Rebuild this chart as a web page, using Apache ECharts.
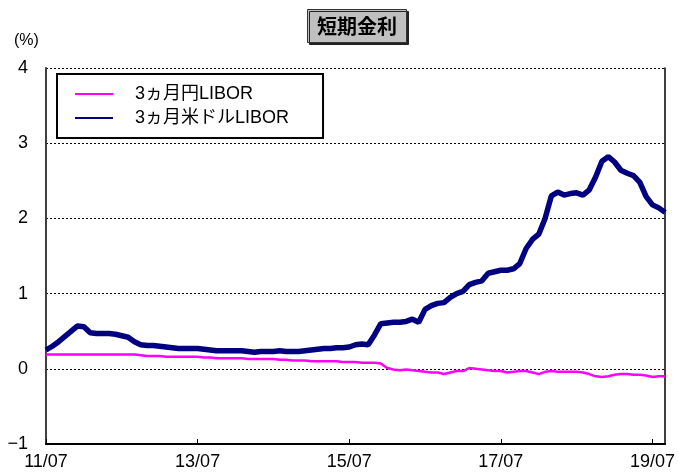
<!DOCTYPE html>
<html>
<head>
<meta charset="utf-8">
<script src="https://cdn.jsdelivr.net/npm/echarts@6/dist/echarts.min.js"></script>
<style>html,body{margin:0;padding:0;background:#fff;}#c{width:678px;height:475px;}</style>
</head>
<body>
<div id="c"></div>
<script>
// Monthly data, index 0 = 2011/07
const startYear = 11;
const seriesNames = ['3ヵ月円LIBOR', '3ヵ月米ドルLIBOR'];
const jpy = [
  0.19,0.19,0.19,0.19,0.19,0.19,0.19,0.19,0.19,0.19,0.19,0.19,
  0.19,0.19,0.19,0.18,0.17,0.17,0.17,0.16,0.16,0.16,0.16,0.16,
  0.16,0.15,0.15,0.14,0.14,0.14,0.14,0.14,0.13,0.13,0.13,0.13,
  0.13,0.12,0.12,0.11,0.11,0.11,0.10,0.10,0.10,0.10,0.10,0.09,
  0.09,0.09,0.08,0.08,0.08,0.07,0.01,-0.01,-0.02,-0.01,-0.02,-0.03,
  -0.04,-0.05,-0.05,-0.07,-0.05,-0.03,-0.03,0.01,0.00,-0.01,-0.02,-0.03,
  -0.03,-0.05,-0.04,-0.03,-0.03,-0.05,-0.07,-0.04,-0.03,-0.04,-0.04,-0.04,
  -0.04,-0.05,-0.07,-0.10,-0.11,-0.10,-0.08,-0.07,-0.07,-0.08,-0.08,-0.09,
  -0.11,-0.10,-0.10
];
const usd = [
  0.25,0.30,0.36,0.43,0.50,0.57,0.56,0.48,0.47,0.47,0.47,0.46,
  0.44,0.42,0.36,0.32,0.31,0.31,0.30,0.29,0.28,0.27,0.27,0.27,
  0.27,0.26,0.25,0.24,0.24,0.24,0.24,0.24,0.23,0.22,0.23,0.23,
  0.23,0.24,0.23,0.23,0.23,0.24,0.25,0.26,0.27,0.27,0.28,0.28,
  0.29,0.32,0.33,0.32,0.45,0.60,0.61,0.62,0.62,0.63,0.66,0.62,
  0.79,0.84,0.87,0.88,0.95,1.00,1.03,1.12,1.15,1.17,1.27,1.29,
  1.31,1.31,1.33,1.40,1.60,1.72,1.79,2.00,2.30,2.35,2.31,2.33,
  2.34,2.31,2.38,2.55,2.76,2.82,2.75,2.64,2.60,2.57,2.48,2.29,
  2.18,2.14,2.08
];
const yTicks = [-1, 0, 1, 2, 3, 4];

const toPairs = arr => arr.map((v, i) => [i, v]);
const font = '"Liberation Sans", "Noto Sans CJK JP", sans-serif';

const chart = echarts.init(document.getElementById('c'), null, {renderer: 'canvas'});
chart.setOption({
  animation: false,
  backgroundColor: '#fff',
  title: {
    text: '短期金利',
    left: 307, top: 9,
    padding: [6, 10, 6, 10],
    backgroundColor: '#c0c0c0',
    borderColor: '#333',
    borderWidth: 1,
    shadowColor: '#222',
    shadowOffsetX: 2,
    shadowOffsetY: 2,
    shadowBlur: 0,
    textStyle: {fontSize: 20, fontWeight: 'bold', color: '#000', fontFamily: '"Noto Sans CJK JP", sans-serif', lineHeight: 22}
  },
  graphic: [{
    type: 'text', left: 14, top: 33,
    style: {text: '(%)', fontSize: 16, fill: '#000', fontFamily: font}
  }],
  legend: {
    orient: 'vertical',
    left: 57, top: 74,
    padding: [11, 34, 11, 18],
    itemGap: 6,
    itemWidth: 38,
    itemHeight: 2,
    backgroundColor: '#fff',
    borderColor: '#000',
    borderWidth: 2,
    data: [
      {name: seriesNames[0], icon: 'rect'},
      {name: seriesNames[1], icon: 'rect'}
    ],
    textStyle: {fontSize: 18, color: '#000', fontFamily: font, padding: [0, 0, 0, 17]}
  },
  grid: {left: 46, right: 10, top: 68, bottom: 31, containLabel: false},
  xAxis: {
    type: 'value',
    min: 0, max: 98, interval: 24,
    axisLine: {onZero: false, lineStyle: {color: '#000', width: 2}},
    axisTick: {inside: true, length: 5, lineStyle: {color: '#000'}},
    splitLine: {show: false},
    axisLabel: {
      fontSize: 18, color: '#000', fontFamily: font, margin: 9,
      showMaxLabel: false,
      formatter: v => {
        if (v % 24 !== 0) return '';
        const yy = startYear + v / 12;
        return yy + '/07';
      }
    }
  },
  yAxis: [{
    type: 'value',
    min: -1, max: 4, interval: 1,
    axisLine: {show: true, lineStyle: {color: '#404040', width: 2}},
    axisTick: {show: false},
    splitLine: {show: true, lineStyle: {color: '#000', type: [2, 2], width: 1}},
    axisLabel: {
      fontSize: 18, color: '#000', fontFamily: font, margin: 18,
      formatter: v => (v < 0 ? '\u2212' + Math.abs(v) : String(v))
    }
  }, {
    type: 'value', position: 'right',
    min: -1, max: 4, interval: 1,
    axisLine: {show: true, lineStyle: {color: '#000', width: 1.5}},
    axisTick: {show: false}, axisLabel: {show: false}, splitLine: {show: false}
  }],
  series: [{
    name: seriesNames[0], type: 'line', symbol: 'none',
    data: toPairs(jpy),
    lineStyle: {color: '#ff00ff', width: 2.5},
    itemStyle: {color: '#ff00ff'},
    z: 3
  }, {
    name: seriesNames[1], type: 'line', symbol: 'none',
    data: toPairs(usd),
    lineStyle: {color: '#000080', width: 5.5},
    itemStyle: {color: '#000080'},
    z: 4
  }]
});
</script>
</body>
</html>
